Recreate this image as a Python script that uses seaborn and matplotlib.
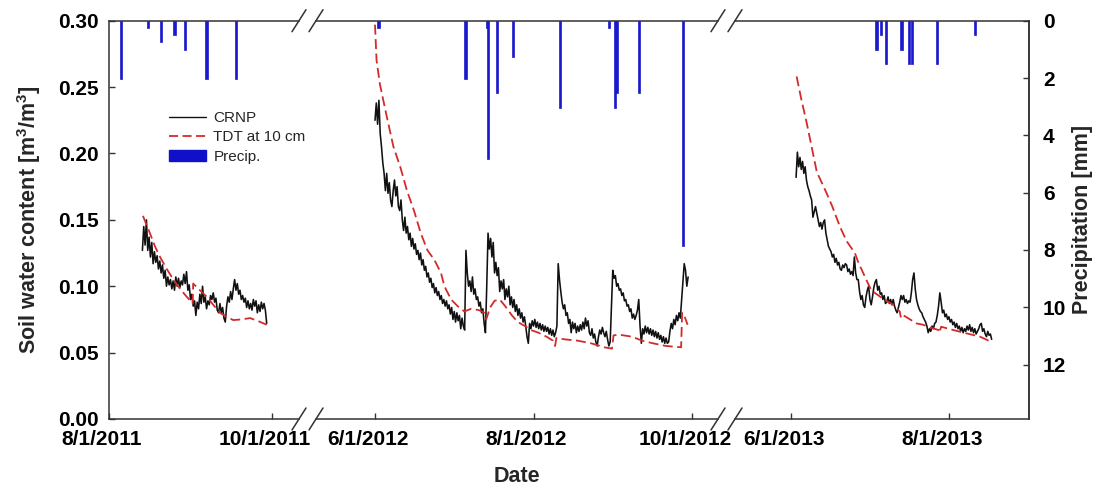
import numpy as np
import pandas as pd
import matplotlib
matplotlib.use("Agg")
import matplotlib.pyplot as plt
import matplotlib.transforms as mtransforms
from matplotlib.lines import Line2D
from matplotlib.patches import Patch
import seaborn as sns

sns.set_style("ticks")
plt.rcParams["font.family"] = ["Liberation Sans", "DejaVu Sans"]
plt.rcParams["mathtext.fontset"] = "custom"
plt.rcParams["mathtext.rm"] = "Liberation Sans:bold"
plt.rcParams["mathtext.default"] = "rm"

# ---------------- data ----------------
# CRNP soil water content, 12-hourly values
crnp_2011_start = "2011-08-13 12:00"
crnp_2011 = [
    0.127, 0.145, 0.131, 0.150, 0.127, 0.137, 0.122, 0.133, 0.117, 0.126,
    0.118, 0.123, 0.113, 0.119, 0.110, 0.116, 0.106, 0.112, 0.100, 0.107,
    0.101, 0.105, 0.098, 0.104, 0.097, 0.107, 0.100, 0.106, 0.099, 0.104,
    0.101, 0.109, 0.102, 0.111, 0.097, 0.101, 0.090, 0.094, 0.085, 0.089,
    0.078, 0.088, 0.083, 0.094, 0.087, 0.100, 0.088, 0.092, 0.083, 0.089,
    0.086, 0.093, 0.090, 0.095, 0.088, 0.091, 0.082, 0.080, 0.087, 0.080,
    0.084, 0.076, 0.073, 0.085, 0.092, 0.088, 0.096, 0.090, 0.098, 0.105,
    0.097, 0.102, 0.094, 0.097, 0.090, 0.093, 0.088, 0.091, 0.084, 0.089,
    0.083, 0.087, 0.082, 0.090, 0.085, 0.089, 0.080, 0.086, 0.081, 0.088,
    0.083, 0.087, 0.082, 0.072,
]
crnp_2012_start = "2012-06-01 00:00"
crnp_2012 = [
    0.225, 0.238, 0.222, 0.240, 0.215, 0.205, 0.193, 0.185, 0.172, 0.185,
    0.170, 0.178, 0.165, 0.160, 0.172, 0.180, 0.168, 0.175, 0.160, 0.157,
    0.165, 0.150, 0.142, 0.152, 0.140, 0.145, 0.135, 0.140, 0.130, 0.136,
    0.128, 0.132, 0.124, 0.127, 0.120, 0.125, 0.116, 0.120, 0.112, 0.115,
    0.107, 0.110, 0.103, 0.106, 0.099, 0.102, 0.095, 0.099, 0.093, 0.096,
    0.090, 0.093, 0.087, 0.090, 0.085, 0.089, 0.083, 0.086, 0.079, 0.084,
    0.075, 0.081, 0.073, 0.080, 0.074, 0.078, 0.068, 0.076, 0.070, 0.067,
    0.127, 0.110, 0.100, 0.104, 0.096, 0.107, 0.094, 0.098, 0.090, 0.092,
    0.085, 0.088, 0.080, 0.083, 0.072, 0.065, 0.100, 0.140, 0.128, 0.136,
    0.122, 0.133, 0.110, 0.118, 0.108, 0.114, 0.096, 0.104, 0.098, 0.105,
    0.090, 0.098, 0.092, 0.100, 0.086, 0.092, 0.084, 0.090, 0.081, 0.086,
    0.078, 0.083, 0.076, 0.080, 0.073, 0.077, 0.070, 0.062, 0.057, 0.072,
    0.068, 0.074, 0.070, 0.075, 0.069, 0.073, 0.068, 0.072, 0.067, 0.071,
    0.066, 0.070, 0.066, 0.069, 0.064, 0.068, 0.063, 0.067, 0.062, 0.065,
    0.070, 0.117, 0.105, 0.096, 0.088, 0.083, 0.086, 0.078, 0.080, 0.072,
    0.075, 0.065, 0.073, 0.068, 0.072, 0.065, 0.070, 0.066, 0.071, 0.067,
    0.073, 0.068, 0.076, 0.070, 0.074, 0.065, 0.063, 0.068, 0.061, 0.064,
    0.058, 0.055, 0.062, 0.067, 0.064, 0.069, 0.065, 0.062, 0.066, 0.060,
    0.055, 0.058, 0.085, 0.112, 0.106, 0.108, 0.100, 0.102, 0.097, 0.098,
    0.093, 0.095, 0.089, 0.090, 0.085, 0.086, 0.081, 0.083, 0.076, 0.079,
    0.075, 0.078, 0.082, 0.090, 0.070, 0.057, 0.068, 0.064, 0.070, 0.065,
    0.069, 0.064, 0.068, 0.063, 0.067, 0.062, 0.066, 0.061, 0.065, 0.060,
    0.063, 0.058, 0.062, 0.057, 0.061, 0.057, 0.058, 0.066, 0.072, 0.068,
    0.075, 0.071, 0.078, 0.074, 0.080, 0.076, 0.090, 0.105, 0.117, 0.112,
    0.100, 0.107,
]
crnp_2013_start = "2013-06-03 00:00"
crnp_2013 = [
    0.182, 0.201, 0.190, 0.197, 0.188, 0.194, 0.185, 0.190, 0.180, 0.175,
    0.172, 0.168, 0.165, 0.152, 0.156, 0.160, 0.155, 0.150, 0.145, 0.148,
    0.143, 0.148, 0.150, 0.140, 0.135, 0.130, 0.128, 0.126, 0.122, 0.124,
    0.118, 0.121, 0.116, 0.118, 0.113, 0.112, 0.116, 0.114, 0.117, 0.116,
    0.111, 0.113, 0.109, 0.111, 0.108, 0.122, 0.110, 0.105, 0.105, 0.096,
    0.090, 0.093, 0.086, 0.084, 0.092, 0.097, 0.100, 0.090, 0.086, 0.092,
    0.099, 0.103, 0.105, 0.097, 0.100, 0.094, 0.095, 0.090, 0.093, 0.087,
    0.088, 0.092, 0.087, 0.090, 0.086, 0.090, 0.085, 0.082, 0.080, 0.084,
    0.088, 0.093, 0.090, 0.093, 0.088, 0.090, 0.087, 0.089, 0.088, 0.095,
    0.105, 0.110, 0.098, 0.090, 0.086, 0.083, 0.081, 0.080, 0.077, 0.075,
    0.073, 0.070, 0.065, 0.068, 0.066, 0.070, 0.068, 0.072, 0.073, 0.078,
    0.085, 0.095, 0.088, 0.080, 0.082, 0.077, 0.079, 0.075, 0.077, 0.073,
    0.075, 0.071, 0.073, 0.069, 0.072, 0.068, 0.070, 0.066, 0.069, 0.065,
    0.068, 0.066, 0.070, 0.067, 0.071, 0.066, 0.069, 0.065, 0.068, 0.064,
    0.066, 0.068, 0.071, 0.072, 0.066, 0.068, 0.064, 0.062, 0.066, 0.063,
    0.064, 0.060,
]

# TDT at 10 cm: day offsets from a base date and values
tdt_2011_base = "2011-08-01"
tdt_2011_day = [12.7, 15.3, 17.2, 19.1, 21.6, 24.1, 26.6, 29.1, 31.3, 31.5,
                34.0, 36.6, 39.0, 41.5, 44.0, 46.5, 49.5, 52.8, 55.5, 59.0]
tdt_2011 = [0.153, 0.140, 0.130, 0.122, 0.113, 0.105, 0.098, 0.092, 0.087, 0.102,
            0.097, 0.092, 0.086, 0.080, 0.077, 0.0745, 0.075, 0.076, 0.074, 0.071]
tdt_2012_base = "2012-06-01"
tdt_2012_day = [0.0, 0.6, 1.9, 4.5, 7.1, 9.7, 12.3, 15.0, 17.6, 20.2,
                22.8, 25.4, 26.7, 29.3, 31.8, 34.4, 37.0, 40.0, 42.1, 42.8,
                44.3, 46.0, 48.0, 50.1, 52.7, 55.0, 57.7, 60.0, 62.9, 66.0,
                68.5, 69.3, 69.8, 73.0, 78.0, 83.2, 88.3, 91.2, 91.8, 94.0,
                98.9, 102.8, 107.0, 112.0, 117.8, 118.2, 119.0, 120.3]
tdt_2012 = [0.297, 0.270, 0.252, 0.228, 0.205, 0.190, 0.172, 0.157, 0.140, 0.127,
            0.120, 0.110, 0.100, 0.090, 0.085, 0.081, 0.083, 0.082, 0.080, 0.075,
            0.084, 0.089, 0.090, 0.085, 0.078, 0.073, 0.070, 0.067, 0.065, 0.062,
            0.059, 0.055, 0.061, 0.060, 0.059, 0.057, 0.054, 0.053, 0.063, 0.0635,
            0.062, 0.059, 0.057, 0.055, 0.054, 0.080, 0.078, 0.071]
tdt_2013_base = "2013-06-01"
tdt_2013_day = [2.2, 4.0, 6.1, 8.0, 9.9, 10.5, 13.8, 16.0, 18.9, 21.5,
                24.7, 26.0, 27.9, 29.8, 31.0, 33.1, 36.0, 39.5, 42.0, 42.5,
                43.5, 46.0, 48.5, 51.0, 53.7, 57.0, 57.3, 58.0, 62.7, 67.8,
                73.0, 77.5]
tdt_2013 = [0.258, 0.241, 0.223, 0.205, 0.187, 0.184, 0.170, 0.160, 0.145, 0.134,
            0.125, 0.118, 0.110, 0.102, 0.097, 0.094, 0.090, 0.086, 0.081, 0.076,
            0.078, 0.075, 0.072, 0.071, 0.069, 0.067, 0.065, 0.0695, 0.067, 0.0645,
            0.062, 0.058]

# Precipitation (mm)
precip_dates = ["2011-08-05 12:00", "2011-08-15 12:00", "2011-08-20 12:00",
                "2011-08-25 12:00", "2011-08-29 12:00", "2011-09-06 12:00",
                "2011-09-17 12:00",
                "2012-06-02 08:00", "2012-07-05 20:00", "2012-07-14 00:00",
                "2012-07-14 10:00", "2012-07-17 22:00", "2012-07-24 04:00",
                "2012-08-11 02:00", "2012-08-30 00:00", "2012-09-01 10:00",
                "2012-09-02 00:00", "2012-09-10 12:00", "2012-09-27 14:00",
                "2013-07-04 02:00", "2013-07-05 16:00", "2013-07-07 16:00",
                "2013-07-13 16:00", "2013-07-16 16:00", "2013-07-17 16:00",
                "2013-07-27 12:00", "2013-08-11 00:00"]
precip_mm = [2.03, 0.25, 0.76, 0.51, 1.02, 2.03, 2.03,
             0.25, 2.03, 0.25, 4.83, 2.54, 1.27, 3.05, 0.25, 3.05, 2.54, 2.54, 7.87,
             1.02, 0.51, 1.52, 1.02, 1.52, 1.52, 1.52, 0.51]

# axis ticks
xtick_dates = [["2011-08-01", "2011-10-01"],
               ["2012-06-01", "2012-08-01", "2012-10-01"],
               ["2013-06-01", "2013-08-01"]]
xtick_labels = [["8/1/2011", "10/1/2011"],
                ["6/1/2012", "8/1/2012", "10/1/2012"],
                ["6/1/2013", "8/1/2013"]]
swc_ticks = [0.00, 0.05, 0.10, 0.15, 0.20, 0.25, 0.30]
swc_tick_labels = ["0.00", "0.05", "0.10", "0.15", "0.20", "0.25", "0.30"]
pr_ticks = [0, 2, 4, 6, 8, 10, 12]
pr_tick_labels = ["0", "2", "4", "6", "8", "10", "12"]

# ---------------- build series ----------------
crnp_t = [pd.date_range(crnp_2011_start, periods=len(crnp_2011), freq="12h"),
          pd.date_range(crnp_2012_start, periods=len(crnp_2012), freq="12h"),
          pd.date_range(crnp_2013_start, periods=len(crnp_2013), freq="12h")]
crnp_v = [crnp_2011, crnp_2012, crnp_2013]
tdt_t = [pd.Timestamp(tdt_2011_base) + pd.to_timedelta(tdt_2011_day, unit="D"),
         pd.Timestamp(tdt_2012_base) + pd.to_timedelta(tdt_2012_day, unit="D"),
         pd.Timestamp(tdt_2013_base) + pd.to_timedelta(tdt_2013_day, unit="D")]
tdt_v = [tdt_2011, tdt_2012, tdt_2013]
p_dates = pd.to_datetime(precip_dates, format="%Y-%m-%d %H:%M")

# ---------------- layout ----------------
W, H = 1099, 493
fig = plt.figure(figsize=(W / 100, H / 100), dpi=100)
y_top_px, y_bot_px = 20.7, 419.0
bottom = (H - y_bot_px) / H
height = (y_bot_px - y_top_px) / H
seg_px = [(109, 299), (316, 718), (735, 1029)]
xlims = [(pd.Timestamp("2011-08-01 00:00"), pd.Timestamp("2011-10-11 02:00")),
         (pd.Timestamp("2012-05-09 07:00"), pd.Timestamp("2012-10-11 00:00")),
         (pd.Timestamp("2013-05-10 10:00"), pd.Timestamp("2013-08-31 22:00"))]

BLACK = "#111111"
RED = "#d42a2a"
BLUE = "#1a1acc"
SPINE = "#333333"

axes, twins = [], []
for i, (x0, x1) in enumerate(seg_px):
    ax = fig.add_axes([x0 / W, bottom, (x1 - x0) / W, height])
    ax.set_facecolor("none")
    sns.lineplot(x=crnp_t[i], y=crnp_v[i], ax=ax, color=BLACK, linewidth=1.15,
                 estimator=None, sort=False)
    sns.lineplot(x=tdt_t[i], y=tdt_v[i], ax=ax, color=RED, linewidth=1.3,
                 linestyle=(0, (5.5, 2.5)), estimator=None, sort=False)
    ax.set_xlim(*xlims[i])
    ax.set_ylim(0, 0.30)
    ax.set_xlabel("")
    ax.set_ylabel("")

    tw = ax.twinx()
    tw.bar(p_dates, precip_mm, width=0.9, color=BLUE, edgecolor=BLUE,
           linewidth=0.5, align="center")
    tw.set_xlim(*xlims[i])
    tw.set_ylim(13.9, 0)
    for s in tw.spines.values():
        s.set_visible(False)

    # main axis styling (after twinx, which resets left ticks)
    ax.set_xticks(pd.to_datetime(xtick_dates[i]))
    ax.set_xticklabels(xtick_labels[i], fontsize=15, fontweight="bold")
    ax.tick_params(axis="x", direction="in", length=4.5, width=1.0, pad=8,
                   colors=SPINE, labelcolor="black", top=False)
    for s in ax.spines.values():
        s.set_color(SPINE)
        s.set_linewidth(1.1)
    if i == 0:
        ax.set_yticks(swc_ticks, labels=swc_tick_labels, fontsize=15, fontweight="bold")
        ax.tick_params(axis="y", direction="in", length=4, width=1.0, pad=7.5,
                       colors=SPINE, labelcolor="black", left=True, right=False)
        ax.spines["right"].set_visible(False)
    else:
        ax.set_yticks(swc_ticks)
        ax.tick_params(axis="y", left=False, labelleft=False, right=False,
                       labelright=False)
        ax.spines["left"].set_visible(False)
        if i == 1:
            ax.spines["right"].set_visible(False)
    off = mtransforms.ScaledTranslation(-7 / 100, 0, fig.dpi_scale_trans)
    for lbl in ax.get_xticklabels():
        lbl.set_transform(lbl.get_transform() + off)

    if i == 2:
        tw.spines["right"].set_visible(True)
        tw.spines["right"].set_color(SPINE)
        tw.spines["right"].set_linewidth(1.1)
        tw.set_yticks(pr_ticks, labels=pr_tick_labels, fontsize=15, fontweight="bold")
        tw.tick_params(axis="y", direction="in", length=4, width=1.0, pad=10,
                       colors=SPINE, labelcolor="black", left=False)
        tw.set_ylabel("Precipitation [mm]", fontsize=15.5, fontweight="bold")
        tw.yaxis.set_label_coords((1072 - x0) / (x1 - x0), 0.5)
    else:
        tw.set_yticks([])
        tw.tick_params(axis="y", left=False, right=False, labelright=False,
                       labelleft=False)
    tw.tick_params(axis="x", bottom=False, top=False, labelbottom=False,
                   labeltop=False)
    axes.append(ax)
    twins.append(tw)

axes[0].set_ylabel(r"Soil water content [m$^3$/m$^3$]", fontsize=15.5, fontweight="bold")
axes[0].yaxis.set_label_coords((43 - 109) / (299 - 109), 0.5)
axes[1].set_xlabel("Date", fontsize=15.5, fontweight="bold")
axes[1].xaxis.set_label_coords(0.5, (y_bot_px - 466) / (y_bot_px - y_top_px))

# axis-break slashes
for xc in [299, 316, 718, 735]:
    for yc in [y_bot_px, y_top_px]:
        fig.add_artist(Line2D([(xc - 7) / W, (xc + 7) / W],
                              [1 - (yc + 11) / H, 1 - (yc - 11) / H],
                              transform=fig.transFigure, color=SPINE, linewidth=1.1))

# legend
handles = [Line2D([], [], color=BLACK, linewidth=1.0),
           Line2D([], [], color=RED, linewidth=1.3, linestyle=(0, (5, 2.5))),
           Patch(facecolor="#1010c8", edgecolor="#1010c8")]
fig.legend(handles, ["CRNP", "TDT at 10 cm", "Precip."], loc="upper left",
           bbox_to_anchor=(169 / W, 1 - 111 / H), frameon=False, fontsize=11,
           handlelength=2.4, handletextpad=0.5, labelspacing=0.35,
           borderpad=0, borderaxespad=0)

fig.savefig("out.png", dpi=100)
